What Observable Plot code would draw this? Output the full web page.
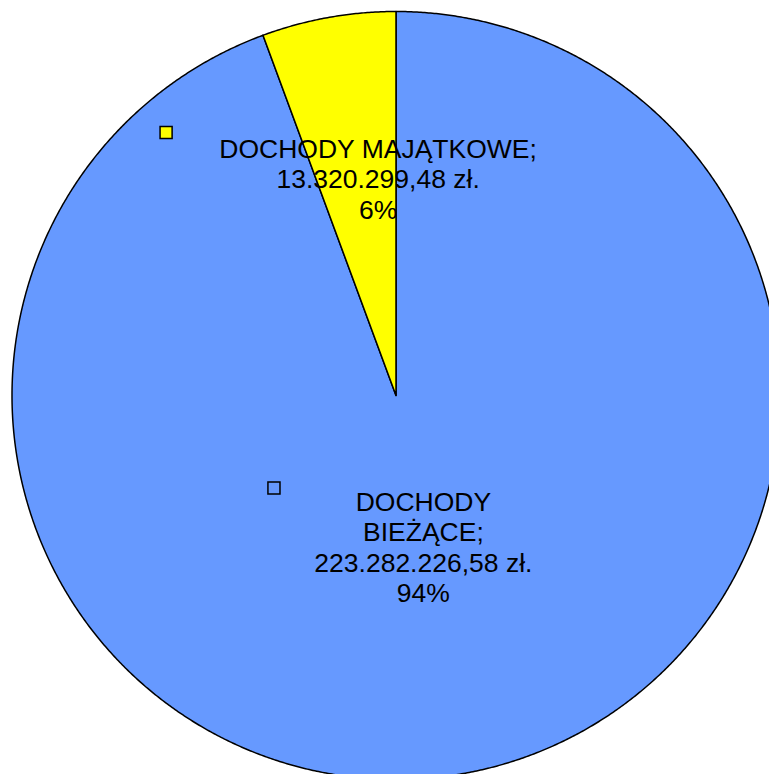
<!DOCTYPE html>
<html>
<head>
<meta charset="utf-8">
<script src="https://cdn.jsdelivr.net/npm/d3@7"></script>
<script src="https://cdn.jsdelivr.net/npm/@observablehq/plot@0.6"></script>
<style>
  html, body { margin: 0; padding: 0; background: #fff; overflow: hidden; }
  svg { overflow: hidden; display: block; }
</style>
</head>
<body>
<div id="chart"></div>
<script>
// ---- data ----
const categories = ["DOCHODY BIEŻĄCE", "DOCHODY MAJĄTKOWE"];
const values = [223282226.58, 13320299.48];
const labelNames = ["DOCHODY\nBIEŻĄCE;", "DOCHODY MAJĄTKOWE;"];
const valueLabels = ["223.282.226,58 zł.", "13.320.299,48 zł."];
const percentLabels = ["94%", "6%"];
const colors = ["#6699FF", "#FFFF00"];

// ---- layout ----
const W = 769, H = 774;
const cx = 395.5, cy = 395, R = 384;
const xDomain = [-cx / R, (W - cx) / R];
const yDomain = [-(H - cy) / R, cy / R];

const arcs = d3.pie().sort(null).value(d => d.value)(
  categories.map((c, i) => ({category: c, value: values[i], i}))
);

// polygon outline of each slice (unit radius), sampled along the arc
function slicePoly(a) {
  const n = Math.max(2, Math.ceil((a.endAngle - a.startAngle) / 0.005));
  const pts = [{x: 0, y: 0}];
  for (let k = 0; k <= n; k++) {
    const t = a.startAngle + (a.endAngle - a.startAngle) * k / n;
    pts.push({x: Math.sin(t), y: Math.cos(t)});
  }
  return pts;
}

// label anchor along the bisector of each slice
const labelRadius = [0.405, 0.570];
const labelShift = [[0, -2], [20.6, -1.5]];
const markerShift = [[-149.4, -60.5], [-191.4, -47.5]];
const labels = arcs.map(a => {
  const i = a.data.i;
  const m = (a.startAngle + a.endAngle) / 2;
  return {
    x: Math.sin(m) * labelRadius[i],
    y: Math.cos(m) * labelRadius[i],
    text: labelNames[i] + "\n" + valueLabels[i] + "\n" + percentLabels[i],
    i
  };
});

const marks = [];
arcs.forEach(a => {
  marks.push(Plot.line(slicePoly(a), {
    x: "x", y: "y", curve: "linear-closed",
    fill: colors[a.data.i], stroke: "black", strokeWidth: 1.5, strokeLinejoin: "round"
  }));
});
labels.forEach(l => {
  marks.push(Plot.dot([l], {
    x: "x", y: "y", symbol: "square", r: 6.8,
    dx: markerShift[l.i][0], dy: markerShift[l.i][1],
    fill: colors[l.i], stroke: "black", strokeWidth: 1.5
  }));
  marks.push(Plot.text([l], {
    x: "x", y: "y", text: "text",
    dx: labelShift[l.i][0], dy: labelShift[l.i][1],
    fontSize: 26.5, lineHeight: 1.15, fill: "black",
    fontFamily: "'Liberation Sans', Arial, sans-serif"
  }));
});

const chart = Plot.plot({
  width: W, height: H, margin: 0,
  x: {domain: xDomain, axis: null},
  y: {domain: yDomain, axis: null},
  style: {background: "white", overflow: "hidden"},
  marks
});
document.getElementById("chart").appendChild(chart);
</script>
</body>
</html>
